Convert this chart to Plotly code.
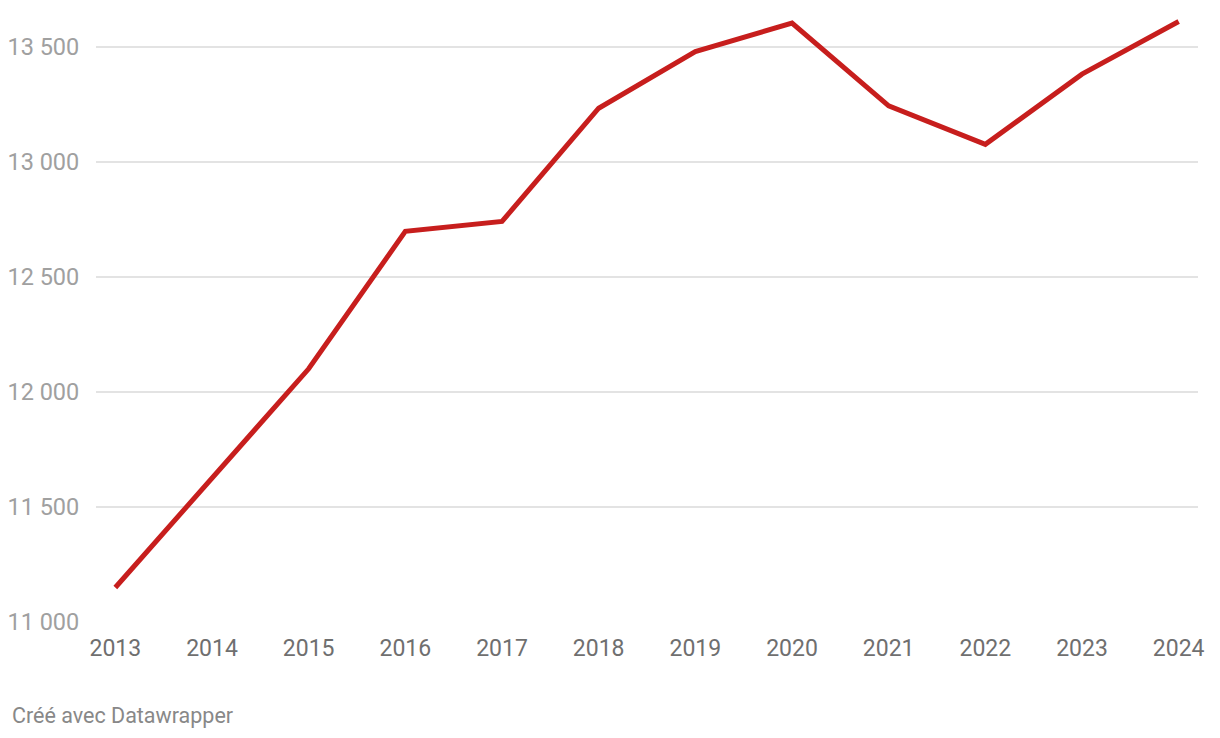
import plotly.graph_objects as go

years = [2013, 2014, 2015, 2016, 2017, 2018, 2019, 2020, 2021, 2022, 2023, 2024]
values = [11150, 11625, 12100, 12697, 12740, 13232, 13478, 13602, 13242, 13075, 13380, 13609]
y_tick_vals = [11000, 11500, 12000, 12500, 13000, 13500]
y_tick_text = ["11 000", "11 500", "12 000", "12 500", "13 000", "13 500"]
source_text = "Créé avec Datawrapper"

fig = go.Figure()
fig.add_trace(go.Scatter(
    x=years, y=values, mode="lines",
    line=dict(color="#c71e1d", width=5),
    hoverinfo="x+y", showlegend=False,
))

fig.update_layout(
    width=1220, height=738,
    margin=dict(l=96, r=22, t=12, b=116),
    paper_bgcolor="white", plot_bgcolor="white",
    font=dict(family="Roboto", size=23, color="#6f6f6f"),
    xaxis=dict(
        range=[2012.8, 2024.2], automargin=False,
        tickvals=years, ticktext=[str(y) for y in years],
        showgrid=False, zeroline=False, showline=False,
        ticks="outside", ticklen=5, tickcolor="rgba(0,0,0,0)",
        tickfont=dict(family="Roboto", size=23, color="#6f6f6f"),
    ),
    yaxis=dict(
        range=[11000, 13650], automargin=False,
        tickvals=y_tick_vals, ticktext=y_tick_text,
        showgrid=True, gridcolor="#e3e3e3", gridwidth=1.5,
        zeroline=False, showline=False,
        ticks="outside", ticklen=11, tickcolor="rgba(0,0,0,0)",
        tickfont=dict(family="Roboto", size=23.5, color="#a0a0a0"),
    ),
    annotations=[dict(
        text=source_text, xref="paper", yref="paper",
        x=(10 - 96) / 1102, y=-(715 - 621.7) / 609.7, xanchor="left", yanchor="middle",
        showarrow=False, font=dict(family="Roboto", size=21.5, color="#888888"),
    )],
)

fig.write_html("out.html")
